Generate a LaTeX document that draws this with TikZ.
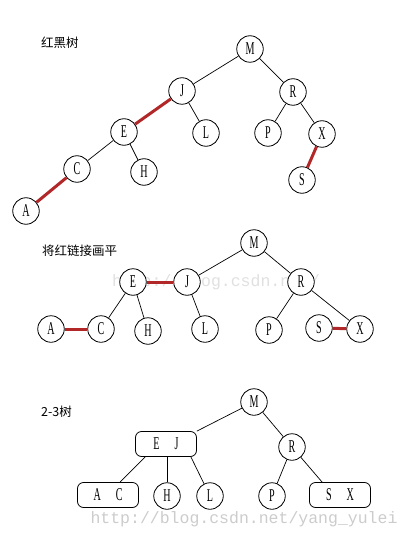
\documentclass[tikz,border=0pt]{standalone}
\usepackage{fontspec}
\setmainfont{Liberation Serif}
\newfontfamily\keyfont[FakeStretch=0.56]{Liberation Serif}
\newfontfamily\cjk{Noto Sans CJK SC}
\newfontfamily\markfont{Liberation Mono}
\usetikzlibrary{positioning}
\definecolor{linkred}{RGB}{178,40,40}

\begin{document}
\begin{tikzpicture}[x=1pt, y=-1pt,
  key/.style={circle, draw, line width=0.8pt, fill=white, minimum size=26.5pt, inner sep=0pt,
    font=\keyfont\fontsize{18}{18}\selectfont},
  pair/.style={rounded corners=6pt, draw, line width=0.8pt, fill=white, minimum width=61pt,
    minimum height=25pt, inner sep=0pt, font=\keyfont\fontsize{18}{18}\selectfont},
  link/.style={line width=0.7pt},
  red link/.style={line width=3pt, linkred},
  title/.style={anchor=west, inner sep=0pt, font=\cjk\fontsize{12.5}{12.5}\selectfont},
  watermark/.style={inner sep=0pt, font=\markfont\fontsize{16.5}{16.5}\selectfont}]

\useasboundingbox (0,0) rectangle (413,540);

% watermarks behind the trees
\node [watermark, text=black!12] (mark-mid) at (216,282) {http://blog.csdn.net/};
\node [watermark, text=black!20] (mark-bottom) at (244,519) {http://blog.csdn.net/yang\_yulei};

% red-black tree
\node [title] (rb-title) at (41,43) {红黑树};

\foreach \n/\x/\y in {M/250/49, J/182/91, R/293/92, E/124/132, L/206/133, P/268/133,
                      X/322/134, C/77/169, H/144/172, S/302/180, A/26/211}
  \node [key] (rb-\n) at (\x,\y) {\n};

\foreach \a/\b in {M/J, M/R, J/L, E/C, E/H, R/P, R/X}
  \draw [link] (rb-\a) -- (rb-\b);

\foreach \a/\b in {J/E, C/A, X/S}
  \draw [red link] (rb-\a) -- (rb-\b);

% red links drawn flat
\node [title] (fl-title) at (42,251) {将红链接画平};

\foreach \n/\x/\y in {M/254/243, E/133/282, J/187/282, R/301/282, A/51/329, C/101/329,
                      H/148/331, L/205/329, P/269/330, S/319/328, X/360/329}
  \node [key] (fl-\n) at (\x,\y) {\n};

\foreach \a/\b in {M/J, M/R, E/C, E/H, J/L, R/P, R/X}
  \draw [link] (fl-\a) -- (fl-\b);

\foreach \a/\b in {A/C, E/J, S/X}
  \draw [red link] (fl-\a) -- (fl-\b);

% 2-3 tree
\node [title] (tt-title) at (41,412) {2-3树};

\foreach \n/\x/\y in {M/254/402, R/292/447, H/167/496, L/210/496, P/272/496}
  \node [key] (tt-\n) at (\x,\y) {\n};

\node [pair] (tt-EJ) at (166,444) {E\hspace{15pt}J};
\node [pair] (tt-AC) at (108,495) {A\hspace{15pt}C};
\node [pair] (tt-SX) at (340,495) {S\hspace{15pt}X};

\draw [link] (tt-M) -- (tt-EJ.north east);
\draw [link] (tt-M) -- (tt-R);
\draw [link] ([xshift=10pt]tt-EJ.south west) -- ([xshift=12pt]tt-AC.north);
\draw [link] (tt-EJ.south -| tt-H) -- (tt-H);
\draw [link] ([xshift=-6pt]tt-EJ.south east) -- (tt-L);
\draw [link] (tt-R) -- (tt-P);
\draw [link] (tt-R) -- ([xshift=13pt]tt-SX.north west);

\end{tikzpicture}
\end{document}
